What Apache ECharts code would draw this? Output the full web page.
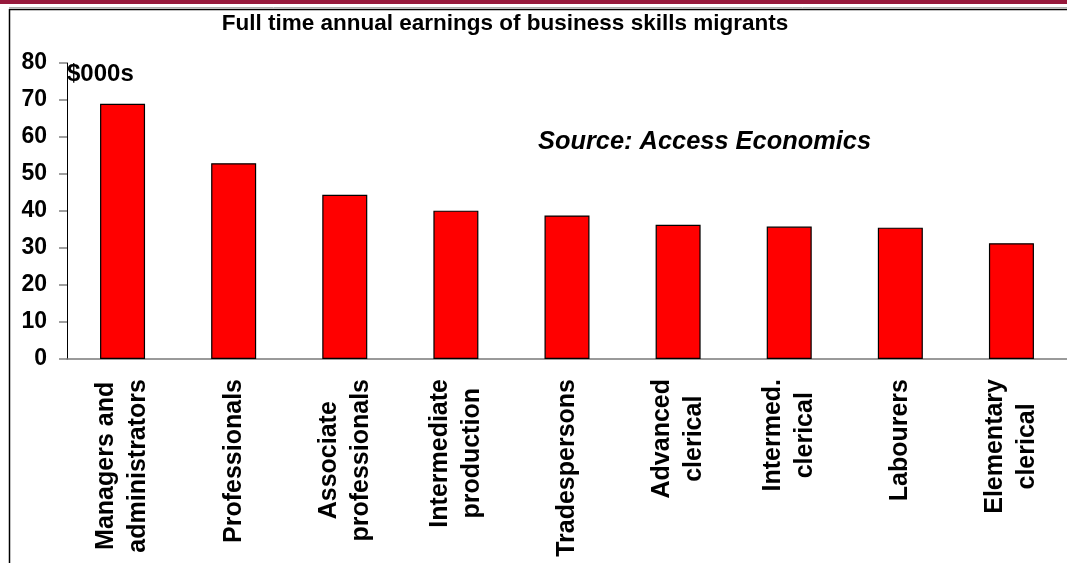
<!DOCTYPE html>
<html>
<head>
<meta charset="utf-8">
<script src="https://cdn.jsdelivr.net/npm/echarts@6/dist/echarts.min.js"></script>
<style>
html,body{margin:0;padding:0;background:#fff;}
#chart{width:1067px;height:563px;}
</style>
</head>
<body>
<div id="chart"></div>
<script>
var categories = [
  "Managers and\nadministrators",
  "Professionals",
  "Associate\nprofessionals",
  "Intermediate\nproduction",
  "Tradespersons",
  "Advanced\nclerical",
  "Intermed.\nclerical",
  "Labourers",
  "Elementary\nclerical"
];
var earnings = [69, 52.9, 44.4, 40.1, 38.8, 36.3, 35.8, 35.5, 31.3];
var yTicks = { min: 0, max: 80, interval: 10 };

var FONT = "'Liberation Sans', Arial, Helvetica, sans-serif";
var chart = echarts.init(document.getElementById('chart'), null, { renderer: 'canvas' });
chart.setOption({
  animation: false,
  backgroundColor: '#ffffff',
  grid: { left: 67, top: 63, width: 1008, bottom: 204, containLabel: false },
  xAxis: {
    type: 'category',
    data: categories,
    boundaryGap: true,
    axisLine: { show: true, lineStyle: { color: '#7a7a7a', width: 1.5 } },
    axisTick: { show: false },
    axisLabel: {
      rotate: 90,
      interval: 0,
      margin: 20,
      color: '#000',
      fontFamily: FONT,
      fontWeight: 'bold',
      fontSize: 25,
      lineHeight: 32,
      formatter: function (v) {
        return v.split('\n').map(function (s) { return '{c|' + s + '}'; }).join('\n');
      },
      rich: {
        c: { align: 'center', fontFamily: FONT, fontWeight: 'bold', fontSize: 25, lineHeight: 32, color: '#000' }
      }
    },
    splitLine: { show: false }
  },
  yAxis: {
    type: 'value',
    min: yTicks.min,
    max: yTicks.max,
    interval: yTicks.interval,
    axisLine: { show: true, lineStyle: { color: '#000', width: 1 } },
    axisTick: { show: true, length: 8, inside: false, lineStyle: { color: '#808080', width: 1.5 } },
    axisLabel: {
      margin: 20,
      color: '#000',
      fontFamily: FONT,
      fontWeight: 'bold',
      fontSize: 23
    },
    splitLine: { show: false }
  },
  series: [{
    type: 'bar',
    data: earnings,
    barWidth: 45,
    itemStyle: { color: '#ff0000', borderColor: '#000', borderWidth: 1.2 }
  }],
  graphic: [
    { type: 'rect', left: 0, top: 0, shape: { width: 1067, height: 4 }, style: { fill: '#97193c' }, silent: true },
    { type: 'line', shape: { x1: 9, y1: 7.5, x2: 1067, y2: 7.5 }, style: { stroke: '#b0b0b0', lineWidth: 1 }, silent: true },
    { type: 'line', shape: { x1: 9, y1: 9.5, x2: 1067, y2: 9.5 }, style: { stroke: '#000', lineWidth: 1.5 }, silent: true },
    { type: 'line', shape: { x1: 9.5, y1: 9, x2: 9.5, y2: 563 }, style: { stroke: '#000', lineWidth: 1.5 }, silent: true },
    { type: 'text', x: 505, y: 24, style: { text: 'Full time annual earnings of business skills migrants', fill: '#000', font: 'bold 22.5px ' + FONT, textAlign: 'center', textVerticalAlign: 'middle' }, silent: true },
    { type: 'text', x: 67, y: 74, style: { text: '$000s', fill: '#000', font: 'bold 24px ' + FONT, textAlign: 'left', textVerticalAlign: 'middle' }, silent: true },
    { type: 'text', x: 538, y: 142, style: { text: 'Source: Access Economics', fill: '#000', font: 'italic bold 25.4px ' + FONT, textAlign: 'left', textVerticalAlign: 'middle' }, silent: true }
  ]
});
</script>
</body>
</html>
